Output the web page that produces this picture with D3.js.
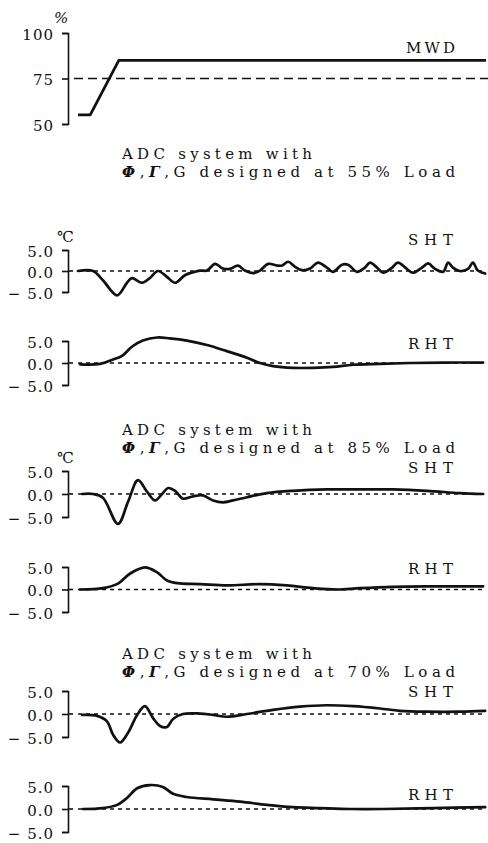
<!DOCTYPE html>
<html>
<head>
<meta charset="utf-8">
<script src="https://cdn.jsdelivr.net/npm/d3@7"></script>
<style>
  body { margin: 0; background: #fff; }
  svg { display: block; }
  #chart text { font-family: "DejaVu Serif", "Liberation Serif", serif; fill: #111; }
</style>
</head>
<body>
<svg id="chart" width="488" height="843"></svg>
<script>
// ---- data -------------------------------------------------------------
// Main steam demand (load %) step and the 75 % reference level
const mwdTime = [0, 3, 10, 100];
const mwdLoad = [55, 55, 85, 85];
const refLoad = 75;

// Controllers designed at 55 % load
const sht55Time = [0, 3.7, 6.1, 9.6, 12, 13.2, 15.7, 17.6, 19.6, 21.8, 23.8, 26.2, 28.2, 29.9, 31.6, 33.6, 35.5, 37.3, 39.2, 40.9, 42.9, 44.6, 46.6, 48.8, 50, 51.5, 53.2, 54.9, 56.9, 58.8, 61, 62.5, 64.7, 66.2, 68.4, 70.3, 71.6, 73.3, 74.8, 77, 78.4, 80.6, 82.1, 84.3, 85.8, 87.5, 89.5, 90.7, 91.9, 93.6, 95.6, 96.8, 98, 99.8];
const sht55 = [0, 0, -2.2, -5.8, -2.8, -1.7, -2.8, -1.7, 0, -1.4, -2.8, -1.0, -0.3, 0.1, 0.1, 1.7, 0.6, 0.5, 1.3, 0.1, -0.5, 0.1, 1.7, 1.3, 1.3, 2.2, 1.0, 0.2, 0.6, 2.0, 0.8, -0.2, 1.5, 1.5, -0.2, 0.8, 2.0, 0.8, -0.4, 0.8, 2.0, 0.5, -0.4, 0.8, 1.8, 0.5, -0.2, 2.0, 0.8, 0.0, 0.5, 2.0, 0.1, -0.6];
const rht55Time = [0.5, 5.4, 8.6, 10.8, 13.2, 15.9, 19.4, 22.5, 26.7, 31.6, 36.5, 41.4, 44.6, 47.8, 52.7, 57.6, 62.5, 67.4, 74, 81.4, 89.5, 99.3];
const rht55 = [-0.3, -0.2, 0.8, 1.6, 3.7, 5.1, 5.8, 5.6, 5.1, 4.1, 2.7, 1.2, 0, -0.7, -1.1, -1.1, -0.9, -0.4, -0.2, 0, 0.1, 0.1];

// Controllers designed at 85 % load
const sht85Time = [1, 3.7, 6.1, 9.8, 12.3, 14.7, 16.9, 18.9, 20.6, 22.1, 23.8, 25.7, 28.2, 30.6, 33.1, 35.5, 38, 41.4, 46.3, 52.7, 61, 69.1, 77.2, 85.5, 93.6, 99.3];
const sht85 = [0, 0, -0.8, -6.5, -1.6, 3.0, 0.5, -1.4, 0, 1.3, 0.7, -1.0, -0.5, -0.3, -1.4, -1.8, -1.4, -0.7, 0.2, 0.7, 1.0, 1.0, 1.0, 0.7, 0.2, 0];
const rht85Time = [0.5, 6.1, 9.8, 12.7, 16.4, 19.4, 21.8, 24.3, 29.9, 36.5, 44.6, 51.2, 57.6, 63.5, 69.1, 77.2, 85.5, 99.3];
const rht85 = [0, 0.3, 1.3, 3.5, 4.9, 3.8, 2.0, 1.4, 1.2, 0.9, 1.2, 0.9, 0.3, 0, 0.3, 0.6, 0.7, 0.7];

// Controllers designed at 70 % load
const sht70Time = [1, 4.7, 7.1, 8.6, 10.3, 12.3, 14.5, 16.4, 18.4, 20.1, 21.8, 23.3, 25.7, 29.9, 33.1, 36.5, 41.4, 47.8, 54.4, 61, 67.4, 74, 78.9, 85.5, 93.6, 99.8];
const sht70 = [-0.2, -0.4, -1.6, -4.5, -6.2, -4.0, -0.2, 1.7, -0.9, -2.6, -2.8, -1.1, 0, 0.1, -0.2, -0.6, 0, 0.9, 1.6, 1.9, 1.7, 1.2, 0.7, 0.5, 0.5, 0.7];
const rht70Time = [1.2, 6.1, 9.6, 12, 14.5, 17.6, 20.8, 23.3, 26.7, 33.1, 39.7, 46.3, 52.7, 59.3, 66.7, 74.8, 87, 99.8];
const rht70 = [0, 0.2, 0.9, 2.4, 4.5, 5.2, 4.8, 3.3, 2.6, 2.1, 1.6, 0.9, 0.4, 0.2, 0, 0, 0.2, 0.4];

const loadTicks = [50, 75, 100];
const tempTicks = [-5, 0, 5];
const designLoads = ["55%", "85%", "70%"];

// ---- layout -----------------------------------------------------------
const svg = d3.select("#chart");
const axisX = 68;
const x = d3.scaleLinear().domain([0, 100]).range([78, 486]);
const ink = "#111";

function styleAxis(g) {
  g.attr("font-family", null).attr("font-size", 15);
  g.select(".domain").attr("stroke", ink).attr("stroke-width", 1.6);
  g.selectAll(".tick line").attr("stroke", ink).attr("stroke-width", 1.6);
  g.selectAll(".tick text").attr("fill", ink).attr("letter-spacing", 1).attr("dy", "0.42em");
}

function label(text, xPos, yBase, size, width) {
  const t = svg.append("text")
    .attr("x", xPos).attr("y", yBase)
    .attr("font-size", size)
    .text(text);
  if (width) t.attr("textLength", width).attr("lengthAdjust", "spacing");
  return t;
}

// ---- MWD panel --------------------------------------------------------
const yLoad = d3.scaleLinear().domain([50, 100]).range([124, 33]);
svg.append("g").attr("transform", `translate(${axisX},0)`)
  .call(d3.axisLeft(yLoad).tickValues(loadTicks).tickSize(6).tickSizeOuter(6).tickPadding(8).tickFormat(d3.format("d")))
  .call(styleAxis);
label("%", 54, 23, 15).attr("font-style", "italic");

svg.append("line")
  .attr("x1", 74).attr("x2", 488)
  .attr("y1", yLoad(refLoad)).attr("y2", yLoad(refLoad))
  .attr("stroke", ink).attr("stroke-width", 1.4)
  .attr("stroke-dasharray", "9,5");

svg.append("path")
  .datum(mwdTime.map((t, i) => [t, mwdLoad[i]]))
  .attr("fill", "none").attr("stroke", ink).attr("stroke-width", 2.8).attr("stroke-linejoin", "round")
  .attr("d", d3.line().x(d => x(d[0])).y(d => yLoad(d[1])));

label("MWD", 406, 53, 15, 49);

// ---- titles ------------------------------------------------------------
const titleBase = [159, 435, 659];
designLoads.forEach((load, i) => {
  label("ADC system with", 122, titleBase[i], 15, 190);
  const t = label("", 122, titleBase[i] + 18, 15, 333);
  t.append("tspan").attr("font-style", "italic").attr("font-weight", "bold").text("Φ");
  t.append("tspan").text(",");
  t.append("tspan").attr("font-style", "italic").attr("font-weight", "bold").text("Γ");
  t.append("tspan").text(",G designed at " + load + " Load");
});

// ---- temperature panels -------------------------------------------------
const panels = [
  { time: sht55Time, values: sht55, name: "SHT", top: 250, bottom: 292, unit: true,  nameY: 245 },
  { time: rht55Time, values: rht55, name: "RHT", top: 341, bottom: 385, unit: false, nameY: 349 },
  { time: sht85Time, values: sht85, name: "SHT", top: 471, bottom: 517, unit: true,  nameY: 473 },
  { time: rht85Time, values: rht85, name: "RHT", top: 567, bottom: 612, unit: false, nameY: 574 },
  { time: sht70Time, values: sht70, name: "SHT", top: 691, bottom: 737, unit: false, nameY: 697 },
  { time: rht70Time, values: rht70, name: "RHT", top: 786, bottom: 832, unit: false, nameY: 800 }
];

const tempFormat = d => d < 0 ? "− " + d3.format(".1f")(-d) : d3.format(".1f")(d);

panels.forEach(p => {
  const y = d3.scaleLinear().domain([-5, 5]).range([p.bottom, p.top]);
  const g = svg.append("g").attr("transform", `translate(${axisX},0)`)
    .call(d3.axisLeft(y).tickValues(tempTicks).tickSize(6).tickSizeOuter(6).tickPadding(8).tickFormat(tempFormat))
    .call(styleAxis);
  // the zero tick crosses the axis
  g.append("line").attr("x1", 0).attr("x2", 5).attr("y1", y(0)).attr("y2", y(0))
    .attr("stroke", ink).attr("stroke-width", 1.6);

  if (p.unit) label("℃", 57, p.top - 8, 15);

  svg.append("line")
    .attr("x1", x(0)).attr("x2", x(100))
    .attr("y1", y(0)).attr("y2", y(0))
    .attr("stroke", ink).attr("stroke-width", 1.3)
    .attr("stroke-dasharray", "4,4");

  svg.append("path")
    .datum(p.time.map((t, i) => [t, p.values[i]]))
    .attr("fill", "none").attr("stroke", ink).attr("stroke-width", 2.7)
    .attr("stroke-linejoin", "round").attr("stroke-linecap", "round")
    .attr("d", d3.line().curve(d3.curveCatmullRom.alpha(0.5)).x(d => x(d[0])).y(d => y(d[1])));

  label(p.name, 408, p.nameY, 15, 45);
});
</script>
</body>
</html>
